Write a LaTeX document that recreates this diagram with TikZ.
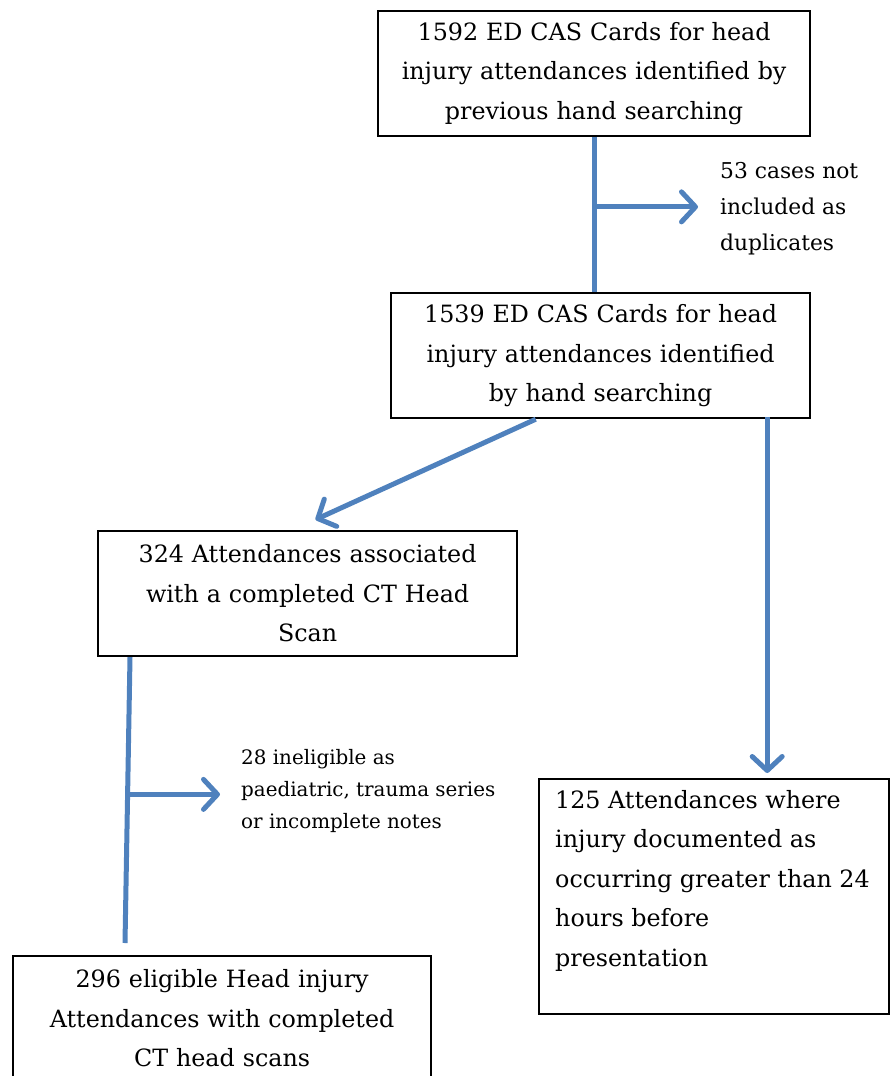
\documentclass[tikz,border=0pt]{standalone}
\usepackage{fontspec}
\setmainfont{DejaVu Serif}
\usetikzlibrary{arrows.meta,calc}
\definecolor{arr}{RGB}{79,129,189}
\tikzset{
  box/.style={draw, line width=2.2pt, inner sep=0pt, align=center, anchor=north west,
    font=\fontsize{23.8}{39.5}\selectfont},
  conn/.style={draw=arr, line width=5pt},
  arrowc/.style={conn, -{Straight Barb[length=14pt,width=30pt,round]}},
  note/.style={anchor=north west, inner sep=0pt, align=left},
}
\begin{document}
\begin{tikzpicture}[x=1pt,y=-1pt]
\useasboundingbox (0,0) rectangle (890,1076);
\clip (0,0) rectangle (890,1076);
\node[box, text width=432, minimum height=125] (b1) at (377,10)
  {1592 ED CAS Cards for head\\injury attendances identified by\\previous hand searching};
\node[box, text width=419, minimum height=125] (b2) at (390,292)
  {1539 ED CAS Cards for head\\injury attendances identified\\by hand searching};
\node[box, text width=419, minimum height=125] (b3) at (97,530)
  {324 Attendances associated\\with a completed CT Head\\Scan};
\node[box, text width=350, minimum height=235] (b4) at (538,778) {};
\node[note, font=\fontsize{23.8}{39.5}\selectfont] (t4) at ([shift={(17,12)}]b4.north west)
  {125 Attendances where\\injury documented as\\occurring greater than 24\\hours before\\presentation};
\node[box, text width=418, minimum height=125] (b5) at (12,955)
  {296 eligible Head injury\\Attendances with completed\\CT head scans};
\node[note, font=\fontsize{21.8}{36}\selectfont] (n1) at (720,162)
  {53 cases not\\included as\\duplicates};
\node[note, font=\fontsize{19.9}{32}\selectfont] (n2) at (241,749)
  {28 ineligible as\\paediatric, trauma series\\or incomplete notes};
% connectors
\coordinate (s1) at (b1.south);
\draw[conn] (s1) -- (s1 |- b2.north);
\coordinate (j1) at ($(s1)!0.45!(s1 |- b2.north)$);
\draw[arrowc] (j1) -- (j1 -| n1.west) [shorten >=22pt];
\draw[arrowc, shorten >=1pt] ($(b2.south west)!0.346!(b2.south east)$) -- ([shift={(7,-10)}]b3.north);
\coordinate (s2) at ([xshift=-44pt]b2.south east);
\draw[arrowc, shorten >=5pt] ([yshift=2pt]s2) -- (s2 |- b4.north);
\coordinate (s3) at ([xshift=33pt]b3.south west);
\coordinate (e3) at ([shift={(113,-12)}]b5.north west);
\draw[conn] (s3) -- (e3);
\coordinate (j3) at ($(s3)!0.48!(e3)$);
\draw[arrowc] (j3) -- (j3 -| n2.west) [shorten >=21pt];
\end{tikzpicture}
\end{document}
